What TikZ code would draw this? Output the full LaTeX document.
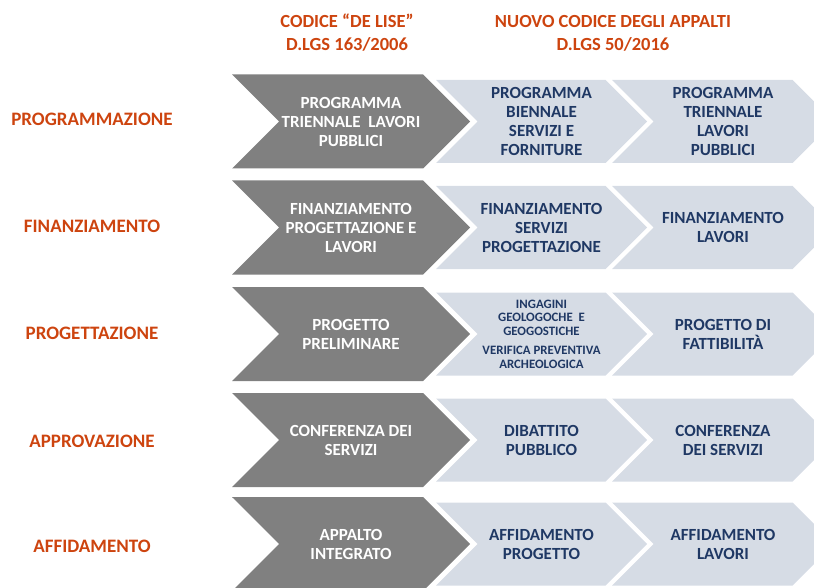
\documentclass[tikz,border=0pt]{standalone}
\usepackage{fontspec}
\setmainfont{Carlito}
\usetikzlibrary{shapes.symbols}

\definecolor{titlered}{RGB}{205,68,15}
\definecolor{oldgray}{RGB}{128,128,128}
\definecolor{newblue}{RGB}{214,220,229}
\definecolor{navytext}{RGB}{31,56,100}

\tikzset{
  header/.style={text=titlered, align=center, font=\bfseries\fontsize{18.5}{23}\selectfont},
  phase/.style={text=titlered, font=\bfseries\fontsize{19}{22}\selectfont},
  chevron/.style={signal, signal from=west, signal to=east, signal pointer angle=90,
    inner sep=0pt, align=center, font=\bfseries\fontsize{17}{19}\selectfont},
  oldstep/.style={chevron, fill=oldgray, text=white, minimum width=238pt, minimum height=94pt},
  newstep/.style={chevron, fill=newblue, text=navytext, minimum height=83pt},
}

\begin{document}
\begin{tikzpicture}[x=1pt,y=-1pt]
  \useasboundingbox (0,0) rectangle (814,588);
  \clip (0,0) rectangle (814,588);
  % titoli
  \node[header] (hold) at (347,33) {CODICE “DE LISE”\\D.LGS 163/2006};
  \node[header] (hnew) at (613,33) {NUOVO CODICE DEGLI APPALTI\\D.LGS 50/2016};
  % fasi
  \node[phase] (f1) at (92,119) {PROGRAMMAZIONE};
  \node[phase] (f2) at (92,226) {FINANZIAMENTO};
  \node[phase] (f3) at (92,333) {PROGETTAZIONE};
  \node[phase] (f4) at (92,441) {APPROVAZIONE};
  \node[phase] (f5) at (92,546) {AFFIDAMENTO};
  % vecchio codice
  \node[oldstep] (old1) at (351,121.5) {PROGRAMMA\\TRIENNALE~ LAVORI\\PUBBLICI};
  \node[oldstep] (old2) at (351,227.5) {FINANZIAMENTO\\PROGETTAZIONE E\\LAVORI};
  \node[oldstep] (old3) at (351,334) {PROGETTO\\PRELIMINARE};
  \node[oldstep] (old4) at (351,440) {CONFERENZA DEI\\SERVIZI};
  \node[oldstep] (old5) at (351,544) {APPALTO\\INTEGRATO};
  % nuovo codice
  \node[newstep, minimum width=211pt] (newa1) at (541.5,121.5) {PROGRAMMA\\BIENNALE\\SERVIZI E\\FORNITURE};
  \node[newstep, minimum width=211pt] (newa2) at (541.5,227.5) {FINANZIAMENTO\\SERVIZI\\PROGETTAZIONE};
  \node[newstep, minimum width=211pt, font=\bfseries\fontsize{12.8}{13.5}\selectfont] (newa3) at (541.5,334)
    {INGAGINI\\GEOLOGOCHE~ E\\GEOGOSTICHE\\[6pt]VERIFICA PREVENTIVA\\ARCHEOLOGICA};
  \node[newstep, minimum width=211pt] (newa4) at (541.5,440) {DIBATTITO\\PUBBLICO};
  \node[newstep, minimum width=211pt] (newa5) at (541.5,544) {AFFIDAMENTO\\PROGETTO};
  \node[newstep, minimum width=222pt] (newb1) at (723,121.5) {PROGRAMMA\\TRIENNALE\\LAVORI\\PUBBLICI};
  \node[newstep, minimum width=222pt] (newb2) at (723,227.5) {FINANZIAMENTO\\LAVORI};
  \node[newstep, minimum width=222pt] (newb3) at (723,334) {PROGETTO DI\\FATTIBILITÀ};
  \node[newstep, minimum width=222pt] (newb4) at (723,440) {CONFERENZA\\DEI SERVIZI};
  \node[newstep, minimum width=222pt] (newb5) at (723,544) {AFFIDAMENTO\\LAVORI};
\end{tikzpicture}
\end{document}
